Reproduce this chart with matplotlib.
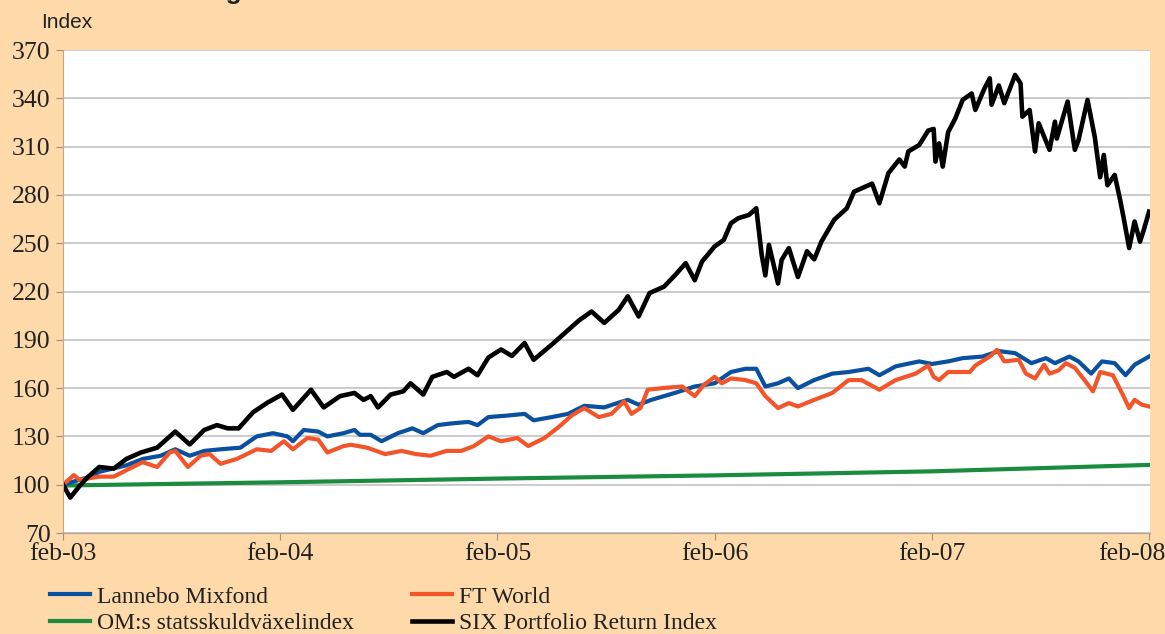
import matplotlib

matplotlib.use("Agg")
import matplotlib.pyplot as plt
from matplotlib.transforms import ScaledTranslation

# months after feb-03 / index values
SIX_MONTHS = [
    0.0, 0.4, 0.9, 1.3, 2.0, 2.8, 3.5, 4.3, 5.2, 6.2, 7.0, 7.8, 8.5, 9.1, 9.7, 10.5,
    11.3, 12.1, 12.7, 13.7, 14.4, 15.3, 16.1, 16.6, 17.0, 17.4, 18.1, 18.8, 19.2, 19.9,
    20.4, 21.2, 21.6, 22.4, 22.9, 23.5, 24.2, 24.8, 25.5, 26.0, 27.0, 27.7, 28.5, 29.2,
    29.9, 30.7, 31.2, 31.8, 32.4, 33.2, 33.8, 34.4, 34.9, 35.3, 36.0, 36.5, 36.9, 37.3,
    37.9, 38.3, 38.6, 38.8, 39.0, 39.5, 39.7, 40.1, 40.6, 41.1, 41.5, 41.9, 42.6, 43.3,
    43.7, 44.7, 45.1, 45.6, 46.2, 46.5, 46.7, 47.3, 47.8, 48.1, 48.2, 48.4, 48.6, 48.9,
    49.3, 49.7, 50.2, 50.4, 50.9, 51.2, 51.3, 51.7, 52.0, 52.6, 52.9, 53.0, 53.4, 53.7,
    53.9, 54.5, 54.8, 54.9, 55.5, 55.9, 56.1, 56.6, 57.0, 57.3, 57.5, 57.7, 58.1, 58.4,
    58.6, 58.9, 59.2, 59.5, 59.7, 60.0,
]
SIX_VALUES = [
    100, 92, 99, 104, 111, 110, 116, 120, 123, 133, 125, 134, 137, 135, 135, 145,
    151, 156, 146.5, 159, 148, 155, 157, 152.7, 155, 148, 156, 158, 163, 156,
    167, 170, 167, 172, 168, 179, 184, 180, 188, 177.6, 187, 194, 202, 207.6,
    200.5, 208.6, 217, 204.5, 219, 223, 230, 237.6, 227, 238.6, 248, 252, 262.4, 265.5,
    267.6, 271.7, 242.7, 230, 249, 225, 239.6, 247, 229, 245, 240, 251, 264.5, 271.7,
    282, 287, 274.8, 293.5, 302, 297.6, 307, 311, 320, 321, 300.7, 312, 297.6, 319,
    327.6, 339, 343, 332.8, 346, 352.4, 336, 348, 337, 354.5, 349.3, 328.6, 332.8, 307,
    324.5, 308, 325.5, 315, 338, 308, 314, 339, 316, 291, 304.8, 286, 292.4, 277,
    265.5, 247, 263.5, 251, 258, 269.6,
]

LANNEBO_MONTHS = [
    0.0, 0.9, 1.5, 2.0, 3.5, 4.4, 5.4, 6.2, 7.0, 7.8, 8.7, 9.8, 10.7, 11.6, 12.4, 12.7,
    13.3, 14.1, 14.6, 15.5, 16.1, 16.4, 17.0, 17.6, 18.5, 19.3, 19.9, 20.7, 21.4, 22.4,
    22.9, 23.5, 24.6, 25.5, 26.0, 27.0, 27.9, 28.8, 29.9, 30.7, 31.2, 31.8, 32.5, 33.8,
    34.9, 36.0, 36.9, 37.7, 38.3, 38.8, 39.5, 40.1, 40.6, 41.5, 42.5, 43.4, 44.5, 45.1,
    46.0, 47.3, 48.0, 48.9, 49.7, 50.8, 51.7, 52.6, 53.5, 54.3, 54.8, 55.6, 56.1, 56.8,
    57.4, 58.1, 58.7, 59.2, 60.0,
]
LANNEBO_VALUES = [
    100, 103, 105, 108, 112, 116, 118, 122, 118, 121, 122, 123, 130, 132, 130, 127,
    134, 133, 130, 132, 134, 131, 131, 127, 132, 135, 132, 137, 138, 139,
    137, 142, 143, 144, 140, 142, 144, 149, 148, 151, 152.7, 149.7, 152.7, 157,
    161, 163, 170, 172, 172, 161, 163, 166, 160, 165, 169, 170, 172, 168,
    173.5, 176.6, 175, 176.6, 178.6, 179.6, 183, 181.7, 175.5, 178.6, 175.5, 179.6, 176.6, 169,
    176.6, 175.5, 168, 174.5, 179.6,
]

FTWORLD_MONTHS = [
    0.0, 0.6, 0.9, 2.0, 2.8, 3.5, 4.4, 5.2, 5.9, 6.2, 6.9, 7.6, 8.1, 8.7, 9.6, 10.7,
    11.5, 12.2, 12.7, 13.5, 14.1, 14.6, 15.5, 15.9, 16.8, 17.8, 18.7, 19.5, 20.3, 21.2,
    22.0, 22.7, 23.5, 24.2, 25.1, 25.7, 26.6, 27.4, 28.1, 28.8, 29.6, 30.3, 31.0, 31.4,
    31.9, 32.3, 33.1, 34.2, 34.9, 35.4, 36.0, 36.4, 36.9, 37.7, 38.3, 38.8, 39.5, 40.1,
    40.6, 41.5, 42.5, 43.4, 44.1, 45.1, 46.0, 47.1, 47.8, 48.1, 48.4, 48.9, 50.1, 50.4,
    51.2, 51.6, 52.0, 52.8, 53.2, 53.7, 54.2, 54.5, 55.0, 55.4, 55.9, 56.5, 56.9, 57.3,
    58.0, 58.5, 58.9, 59.2, 59.6, 60.0,
]
FTWORLD_VALUES = [
    100, 106, 103, 105, 105, 109, 114, 111, 120, 121, 111, 118, 119, 113, 116, 122,
    121, 127, 122, 129, 128, 120, 124, 124.8, 123, 119, 121, 119, 118, 121,
    121, 124, 130, 127, 129, 124, 129, 136, 143, 147.6, 142, 144, 151.7, 144,
    147.6, 159, 160, 161, 155, 162, 167, 163, 166, 165, 163, 155, 147.6, 150.7,
    148.6, 152.7, 157, 165, 165, 159, 165, 169, 174, 167, 165, 170, 170, 174,
    179.6, 183.8, 176.6, 177.6, 169, 166, 174.5, 169, 171, 175.5, 172.6, 164, 158, 170,
    168, 157, 147.6, 152.7, 149.7, 148.6,
]

OMX_MONTHS = [0, 6, 12, 24, 36, 48, 60]
OMX_VALUES = [99.5, 100.5, 101.5, 103.8, 105.8, 108.3, 112.3]

TICK_MONTHS = [0, 12, 24, 36, 48, 60]
TICK_LABELS = ["feb-03", "feb-04", "feb-05", "feb-06", "feb-07", "feb-08"]
Y_TICKS = [70, 100, 130, 160, 190, 220, 250, 280, 310, 340, 370]

BG = "#FED9AA"
SERIF = ["Liberation Serif", "DejaVu Serif"]
SANS = ["Liberation Sans", "DejaVu Sans"]
plt.rcParams["font.family"] = SERIF

fig = plt.figure(figsize=(11.65, 6.34), dpi=100)
fig.patch.set_facecolor(BG)
ax = fig.add_axes([0.0541, 0.1593, 0.9330, 0.7618])
ax.set_facecolor("white")

l1, = ax.plot(LANNEBO_MONTHS, LANNEBO_VALUES, color="#0A50A0", linewidth=3.0, label="Lannebo Mixfond")
l3, = ax.plot(OMX_MONTHS, OMX_VALUES, color="#1B8C3F", linewidth=3.0, label="OM:s statsskuldväxelindex")
l2, = ax.plot(FTWORLD_MONTHS, FTWORLD_VALUES, color="#F2552A", linewidth=3.0, label="FT World")
l4, = ax.plot(SIX_MONTHS, SIX_VALUES, color="black", linewidth=3.3, label="SIX Portfolio Return Index")
l3.set_zorder(1.5)

ax.set_xlim(0, 60.05)
ax.set_ylim(70, 370)
ax.set_yticks(Y_TICKS)
ax.set_xticks(TICK_MONTHS, TICK_LABELS)
ax.grid(axis="y", color="#BDBDBD", linewidth=1.1)
ax.set_axisbelow(True)

for side in ["top", "right"]:
    ax.spines[side].set_visible(False)
ax.spines["left"].set_color("#C9A57C")
ax.spines["bottom"].set_color("#B0A090")
ax.tick_params(axis="both", direction="out", length=5, color="#A09080", labelsize=18.5, labelcolor="#222222")
ax.tick_params(axis="y", pad=4)
ax.tick_params(axis="x", pad=2)

# last date label sits left of its tick, as in the original
last = ax.xaxis.get_major_ticks()[-1].label1
last.set_transform(last.get_transform() + ScaledTranslation(-17 / 100, 0, fig.dpi_scale_trans))

fig.text(41 / 1165, 1 - 22 / 634, "Index", fontsize=15, family=SANS, color="#222222", va="center", ha="left")
# title, cut off by the top edge of the picture
fig.text(242 / 1165, 1 + 1 / 634, "Kursutveckling", fontsize=19, fontweight="bold", family=SANS,
         color="#222222", ha="right", va="baseline")

leg = fig.legend(handles=[l1, l3, l2, l4], loc="upper left", bbox_to_anchor=(50 / 1165, 1 - 586 / 634), ncol=2,
                 frameon=False, prop={"family": SERIF, "size": 17}, handlelength=1.7,
                 handletextpad=0.3, columnspacing=2.45, labelspacing=0.2, borderaxespad=0, borderpad=0)
for t in leg.get_texts():
    t.set_color("#222222")

fig.savefig("out.png", dpi=100, facecolor=BG)
